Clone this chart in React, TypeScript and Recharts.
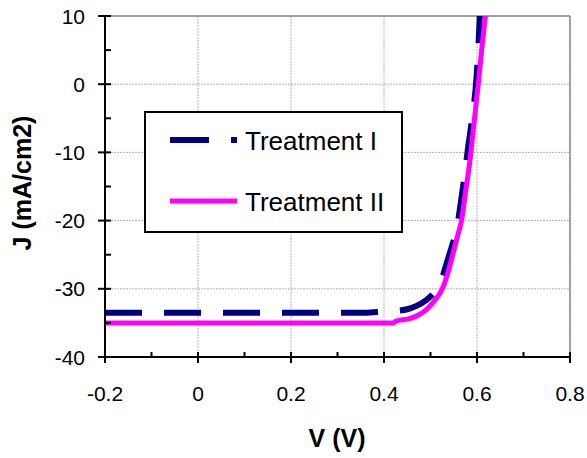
import React from 'react';
import { LineChart, Line, XAxis, YAxis, CartesianGrid, ReferenceLine, Legend } from 'recharts';

const vI = [-0.2, 0.0, 0.2, 0.36, 0.40, 0.43, 0.45, 0.47, 0.49, 0.505, 0.517, 0.527, 0.535, 0.545, 0.556, 0.567, 0.575, 0.581, 0.587, 0.592, 0.599, 0.603, 0.606];
const jI = [-33.5, -33.5, -33.5, -33.5, -33.3, -33.2, -33.0, -32.5, -31.7, -30.8, -29.7, -28.0, -26.2, -24.0, -21.3, -16.5, -12.5, -9.2, -6.3, -3.8, 1.0, 5.5, 10];

const vII = [-0.2, 0.0, 0.2, 0.40, 0.42, 0.425, 0.434, 0.45, 0.463, 0.475, 0.487, 0.499, 0.515, 0.528, 0.538, 0.549, 0.558, 0.567, 0.576, 0.585, 0.592, 0.599, 0.605, 0.61, 0.618];
const jII = [-35, -35, -35, -35, -35, -34.75, -34.6, -34.45, -34.2, -33.8, -33.3, -32.5, -31.2, -29.6, -27.5, -24.7, -22.3, -19.9, -15.5, -11.1, -6.7, -2.3, 1.5, 5.0, 10];

const seriesNames = ['Treatment I', 'Treatment II'];
const xTicks = [-0.2, -0.1, 0, 0.1, 0.2, 0.3, 0.4, 0.5, 0.6, 0.7, 0.8];
const xMajor = [-0.2, 0, 0.2, 0.4, 0.6, 0.8];
const yTicks = [-40, -35, -30, -25, -20, -15, -10, -5, 0, 5, 10];
const yMajor = [-40, -30, -20, -10, 0, 10];

const dataI = vI.map((v, i) => ({ v, j: jI[i] }));
const dataII = vII.map((v, i) => ({ v, j: jII[i] }));

const FONT = '"Liberation Sans", Arial, sans-serif';
const NAVY = '#000080';
const MAGENTA = '#FF00FF';

const isMajorX = (v: number) => xMajor.some((m) => Math.abs(m - v) < 1e-9);
const isMajorY = (v: number) => yMajor.some((m) => Math.abs(m - v) < 1e-9);

const XTick = (props: any) => {
  const { x, y, payload } = props;
  const major = isMajorX(payload.value);
  return (
    <g>
      <line x1={x} x2={x} y1={y - 5} y2={major ? y + 6 : y} stroke="#000" strokeWidth={2} />
      {major && (
        <text x={x} y={y + 44} textAnchor="middle" fontSize={21} fontFamily={FONT} fill="#000">
          {payload.value === 0 ? '0' : String(payload.value)}
        </text>
      )}
    </g>
  );
};

const YTick = (props: any) => {
  const { x, y, payload } = props;
  const major = isMajorY(payload.value);
  return (
    <g>
      <line x1={major ? x - 7 : x} x2={x + 6} y1={y} y2={y} stroke="#000" strokeWidth={2} />
      {major && (
        <text x={x - 20} y={y + 7.5} textAnchor="end" fontSize={21} fontFamily={FONT} fill="#000">
          {String(payload.value)}
        </text>
      )}
    </g>
  );
};

const LegendBox = () => (
  <svg width={260} height={123} style={{ display: 'block' }}>
    <rect x={1} y={1} width={257} height={120} fill="#fff" stroke="#000" strokeWidth={2} />
    <line x1={26} x2={93} y1={29} y2={29} stroke={NAVY} strokeWidth={6} strokeDasharray="39 22" />
    <text x={101} y={38.5} fontSize={26} fontFamily={FONT} fill="#000">{seriesNames[0]}</text>
    <line x1={26} x2={93} y1={90} y2={90} stroke={MAGENTA} strokeWidth={5} />
    <text x={101} y={99.5} fontSize={26} fontFamily={FONT} fill="#000">{seriesNames[1]}</text>
  </svg>
);

export default function App() {
  return (
    <div style={{ position: 'absolute', left: 0, top: 0, width: 587, height: 458, background: '#fff' }}>
      <LineChart width={587} height={458} margin={{ top: 16, right: 17, bottom: 41, left: 30 }}>
        <CartesianGrid
          stroke="#b4b4b4"
          strokeDasharray="2 1"
          horizontalValues={yMajor}
          verticalValues={xMajor}
        />
        <ReferenceLine y={10} stroke="#888" strokeWidth={1.5} />
        <ReferenceLine x={0.8} stroke="#888" strokeWidth={1.5} />
        <XAxis
          type="number"
          dataKey="v"
          domain={[-0.2, 0.8]}
          ticks={xTicks}
          interval={0}
          height={60}
          tickSize={0}
          tickMargin={0}
          tickLine={false}
          axisLine={{ stroke: '#000', strokeWidth: 2 }}
          tick={<XTick />}
          allowDataOverflow
          label={{
            content: () => (
              <text x={337} y={447} textAnchor="middle" fontSize={25} fontWeight="bold" fontFamily={FONT} fill="#000">
                V (V)
              </text>
            ),
          }}
        />
        <YAxis
          type="number"
          domain={[-40, 10]}
          ticks={yTicks}
          interval={0}
          width={75}
          tickSize={0}
          tickMargin={0}
          tickLine={false}
          axisLine={{ stroke: '#000', strokeWidth: 2 }}
          tick={<YTick />}
          allowDataOverflow
          label={{
            content: () => (
              <text
                x={31}
                y={183}
                transform="rotate(-90 31 183)"
                textAnchor="middle"
                fontSize={25}
                fontWeight="bold"
                fontFamily={FONT}
                fill="#000"
              >
                J (mA/cm2)
              </text>
            ),
          }}
        />
        <Legend
          layout="horizontal"
          align="center"
          verticalAlign="middle"
          wrapperStyle={{ position: 'absolute', left: 144, top: 111, width: 260, height: 123 }}
          content={() => <LegendBox />}
        />
        <Line
          data={dataI}
          dataKey="j"
          name={seriesNames[0]}
          type="monotone"
          stroke={NAVY}
          strokeWidth={6}
          strokeDasharray="37 22"
          dot={false}
          activeDot={false}
          isAnimationActive={false}
        />
        <Line
          data={dataII}
          dataKey="j"
          name={seriesNames[1]}
          type="monotone"
          stroke={MAGENTA}
          strokeWidth={5}
          dot={false}
          activeDot={false}
          isAnimationActive={false}
        />
      </LineChart>
    </div>
  );
}
